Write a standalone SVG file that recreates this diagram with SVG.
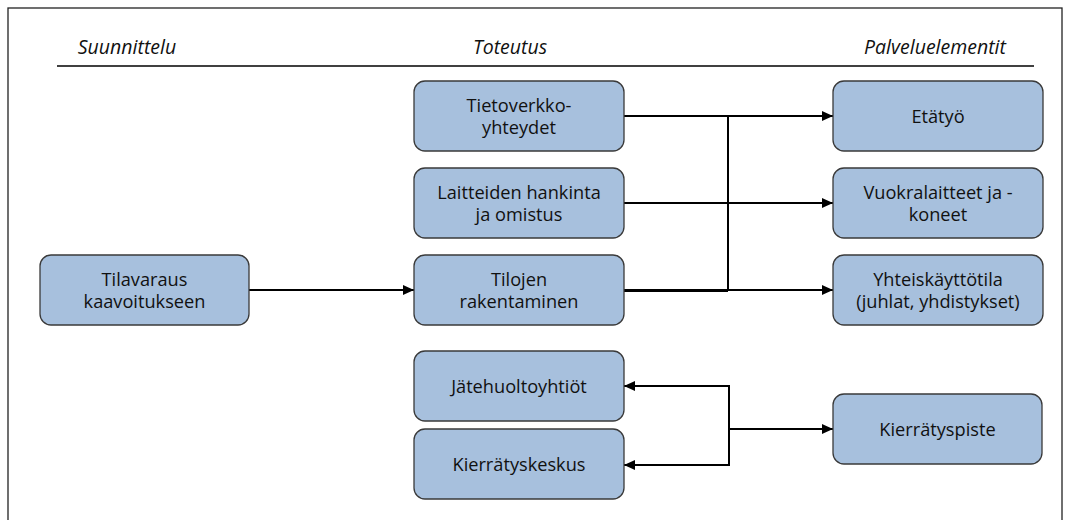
<svg xmlns="http://www.w3.org/2000/svg" width="1066" height="520" viewBox="0 0 1066 520">
<style>
.node rect{fill:#a7c0dd;stroke:#3a3a3a;stroke-width:1.3}
.node text{font-family:"Open Sans","Noto Sans",sans-serif;font-size:18.2px;fill:#111;text-anchor:middle}
.hdr{font-family:"Open Sans","Noto Sans",sans-serif;font-size:19.5px;font-style:italic;fill:#111;text-anchor:middle}
.conn path{fill:none;stroke:#000;stroke-width:2}
</style>
<defs>
<marker id="arr" viewBox="0 0 10 10" refX="10" refY="5" markerWidth="11" markerHeight="11" markerUnits="userSpaceOnUse" orient="auto">
<path d="M0,0.5 L10,5 L0,9.5 Z" fill="#000"/>
</marker>
</defs>
<rect x="8" y="8" width="1054" height="520" fill="#fff" stroke="#222" stroke-width="1.3"/>
<g id="headers">
<text class="hdr" x="127" y="54">Suunnittelu</text>
<text class="hdr" x="510" y="54">Toteutus</text>
<text class="hdr" x="935" y="54">Palveluelementit</text>
<line x1="57" y1="66" x2="1034" y2="66" stroke="#000" stroke-width="1.3"/>
</g>
<g class="conn" id="connectors">
<path d="M624,116 H833" marker-end="url(#arr)"/>
<path d="M624,203 H833" marker-end="url(#arr)"/>
<path d="M624,290 H833" marker-end="url(#arr)"/>
<path d="M624,290.5 H728" style="stroke-width:3"/>
<path d="M728,116 V290"/>
<path d="M249,290 H414" marker-end="url(#arr)"/>
<path d="M729,386 H624" marker-end="url(#arr)"/>
<path d="M729,465 H624" marker-end="url(#arr)"/>
<path d="M729,385 V466"/>
<path d="M729,429 H833" marker-end="url(#arr)"/>
</g>
<g class="node" id="n-tilavaraus"><rect x="40" y="255" width="209" height="70" rx="11"/><text x="144.5" y="286">Tilavaraus</text><text x="144.5" y="308">kaavoitukseen</text></g>
<g class="node" id="n-tietoverkko"><rect x="414" y="81" width="210" height="70" rx="11"/><text x="519" y="112">Tietoverkko-</text><text x="519" y="134">yhteydet</text></g>
<g class="node" id="n-laitteiden"><rect x="414" y="168" width="210" height="70" rx="11"/><text x="519" y="199">Laitteiden hankinta</text><text x="519" y="221">ja omistus</text></g>
<g class="node" id="n-tilojen"><rect x="414" y="255" width="210" height="70" rx="11"/><text x="519" y="286">Tilojen</text><text x="519" y="308">rakentaminen</text></g>
<g class="node" id="n-jatehuolto"><rect x="414" y="351" width="210" height="70" rx="11"/><text x="519" y="393">Jätehuoltoyhtiöt</text></g>
<g class="node" id="n-kierratyskeskus"><rect x="414" y="429" width="210" height="70" rx="11"/><text x="519" y="471">Kierrätyskeskus</text></g>
<g class="node" id="n-etatyo"><rect x="833" y="81" width="210" height="70" rx="11"/><text x="938" y="123">Etätyö</text></g>
<g class="node" id="n-vuokra"><rect x="833" y="168" width="210" height="70" rx="11"/><text x="938" y="199">Vuokralaitteet ja -</text><text x="938" y="221">koneet</text></g>
<g class="node" id="n-yhteis"><rect x="833" y="255" width="210" height="70" rx="11"/><text x="938" y="286">Yhteiskäyttötila</text><text x="938" y="308">(juhlat, yhdistykset)</text></g>
<g class="node" id="n-kierratyspiste"><rect x="833" y="394" width="209" height="70" rx="11"/><text x="937.5" y="436">Kierrätyspiste</text></g>
</svg>
